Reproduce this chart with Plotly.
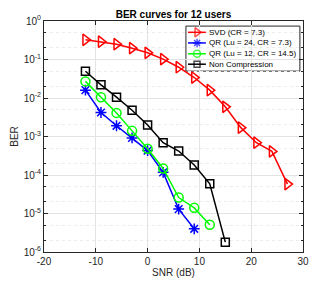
import plotly.graph_objects as go

snr_svd = [-12, -9, -6, -3, 0, 3, 6, 9, 12, 15, 18, 21, 24, 27]
ber_svd = [0.325, 0.29, 0.25, 0.197, 0.149, 0.102, 0.063, 0.034, 0.016, 0.0059, 0.0017, 0.00069, 0.00041, 5.8e-5]

snr_qr24 = [-12, -9, -6, -3, 0, 3, 6, 9]
ber_qr24 = [0.016, 0.0042, 0.0019, 0.00092, 0.00043, 0.000117, 1.3e-5, 4.0e-6]

snr_qr12 = [-12, -9, -6, -3, 0, 3, 6, 9, 12]
ber_qr12 = [0.027, 0.0105, 0.0041, 0.0014, 0.00048, 0.000148, 2.6e-5, 1.4e-5, 5.1e-6]

snr_nc = [-12, -9, -6, -3, 0, 3, 6, 9, 12, 15]
ber_nc = [0.0495, 0.022, 0.0105, 0.0048, 0.002, 0.00069, 0.00042, 0.000182, 5.9e-5, 1.8e-6]

series_names = ["SVD (CR = 7.3)", "QR (Lu = 24, CR = 7.3)", "QR (Lu = 12, CR = 14.5)", "Non Compression"]

x_ticks = [-20, -10, 0, 10, 20, 30]
y_exps = [0, -1, -2, -3, -4, -5, -6]

FONT = "Liberation Sans, Arial"
TXT = "#262626"

fig = go.Figure()
styles = [
    ("red", "triangle-right-open", 10, 8),
    ("blue", "asterisk-open", 9, 7),
    ("#00ff00", "circle-open", 9, 7),
    ("black", "square-open", 8, 6),
]
data = [(snr_svd, ber_svd), (snr_qr24, ber_qr24), (snr_qr12, ber_qr12), (snr_nc, ber_nc)]
for name, (x, y), (c, sym, sz, _) in zip(series_names, data, styles):
    fig.add_trace(go.Scatter(
        x=x, y=y, name=name, mode="lines+markers", showlegend=False,
        line=dict(color=c, width=1.5),
        marker=dict(symbol=sym, size=sz, color=c, line=dict(color=c, width=1.5)),
    ))

# compact MATLAB-style legend drawn on an overlay axis (0..1 coords)
leg_x0, leg_x1 = 0.548, 0.988
leg_y0, leg_y1 = 0.783, 0.978
row_y = [0.951, 0.905, 0.858, 0.813]
fig.add_shape(type="rect", xref="paper", yref="paper", x0=leg_x0, x1=leg_x1, y0=leg_y0, y1=leg_y1,
              line=dict(color=TXT, width=1), fillcolor="white", layer="between")
for name, (c, sym, _, lsz), ry in zip(series_names, styles, row_y):
    fig.add_trace(go.Scatter(
        x=[0.556, 0.591, 0.625], y=[ry, ry, ry], xaxis="x2", yaxis="y2",
        mode="lines+markers", showlegend=False, hoverinfo="skip",
        line=dict(color=c, width=1.5),
        marker=dict(symbol=sym, size=[0, lsz, 0], color=c, line=dict(color=c, width=1.5)),
    ))
    fig.add_annotation(x=0.633, y=ry, xref="paper", yref="paper", text=name, showarrow=False,
                       xanchor="left", yanchor="middle", borderpad=0,
                       font=dict(family=FONT, size=8, color="black"))

axis_common = dict(
    showline=True, linecolor=TXT, linewidth=1, mirror="ticks",
    ticks="inside", ticklen=4, tickcolor=TXT,
    gridcolor="#e3e3e3", zeroline=False, automargin=False,
    tickfont=dict(family=FONT, size=10, color=TXT),
)

fig.update_layout(xaxis=dict(
    range=[-20, 30], tickvals=x_ticks, ticktext=[str(v) for v in x_ticks],
    title=dict(text="SNR (dB)", font=dict(family=FONT, size=10, color=TXT), standoff=2),
    **axis_common,
))
fig.update_layout(yaxis=dict(
    type="log", range=[-6, 0],
    tickvals=[10 ** e for e in y_exps],
    ticktext=["10<sup>%d</sup>" % e for e in y_exps],
    title=dict(text="BER", font=dict(family=FONT, size=10, color=TXT), standoff=3),
    minor=dict(showgrid=True, gridcolor="#ececec", griddash="dot", ticks="inside", ticklen=2, tickcolor=TXT),
    **axis_common,
))
fig.update_layout(
    xaxis2=dict(overlaying="x", range=[0, 1], visible=False, fixedrange=True),
    yaxis2=dict(overlaying="y", range=[0, 1], visible=False, fixedrange=True),
)

# page has an 8px body margin: figure is sized to fill the remaining viewport
fig.update_layout(
    width=327, height=276,
    margin=dict(l=36, r=32, t=13, b=32),
    plot_bgcolor="white", paper_bgcolor="white",
    title=dict(text="<b>BER curves for 12 users</b>", x=0.5, xref="paper", xanchor="center",
               y=0.975, yref="container", yanchor="middle",
               font=dict(family=FONT, size=10, color="black")),
    showlegend=False,
)

fig.write_html("out.html")
